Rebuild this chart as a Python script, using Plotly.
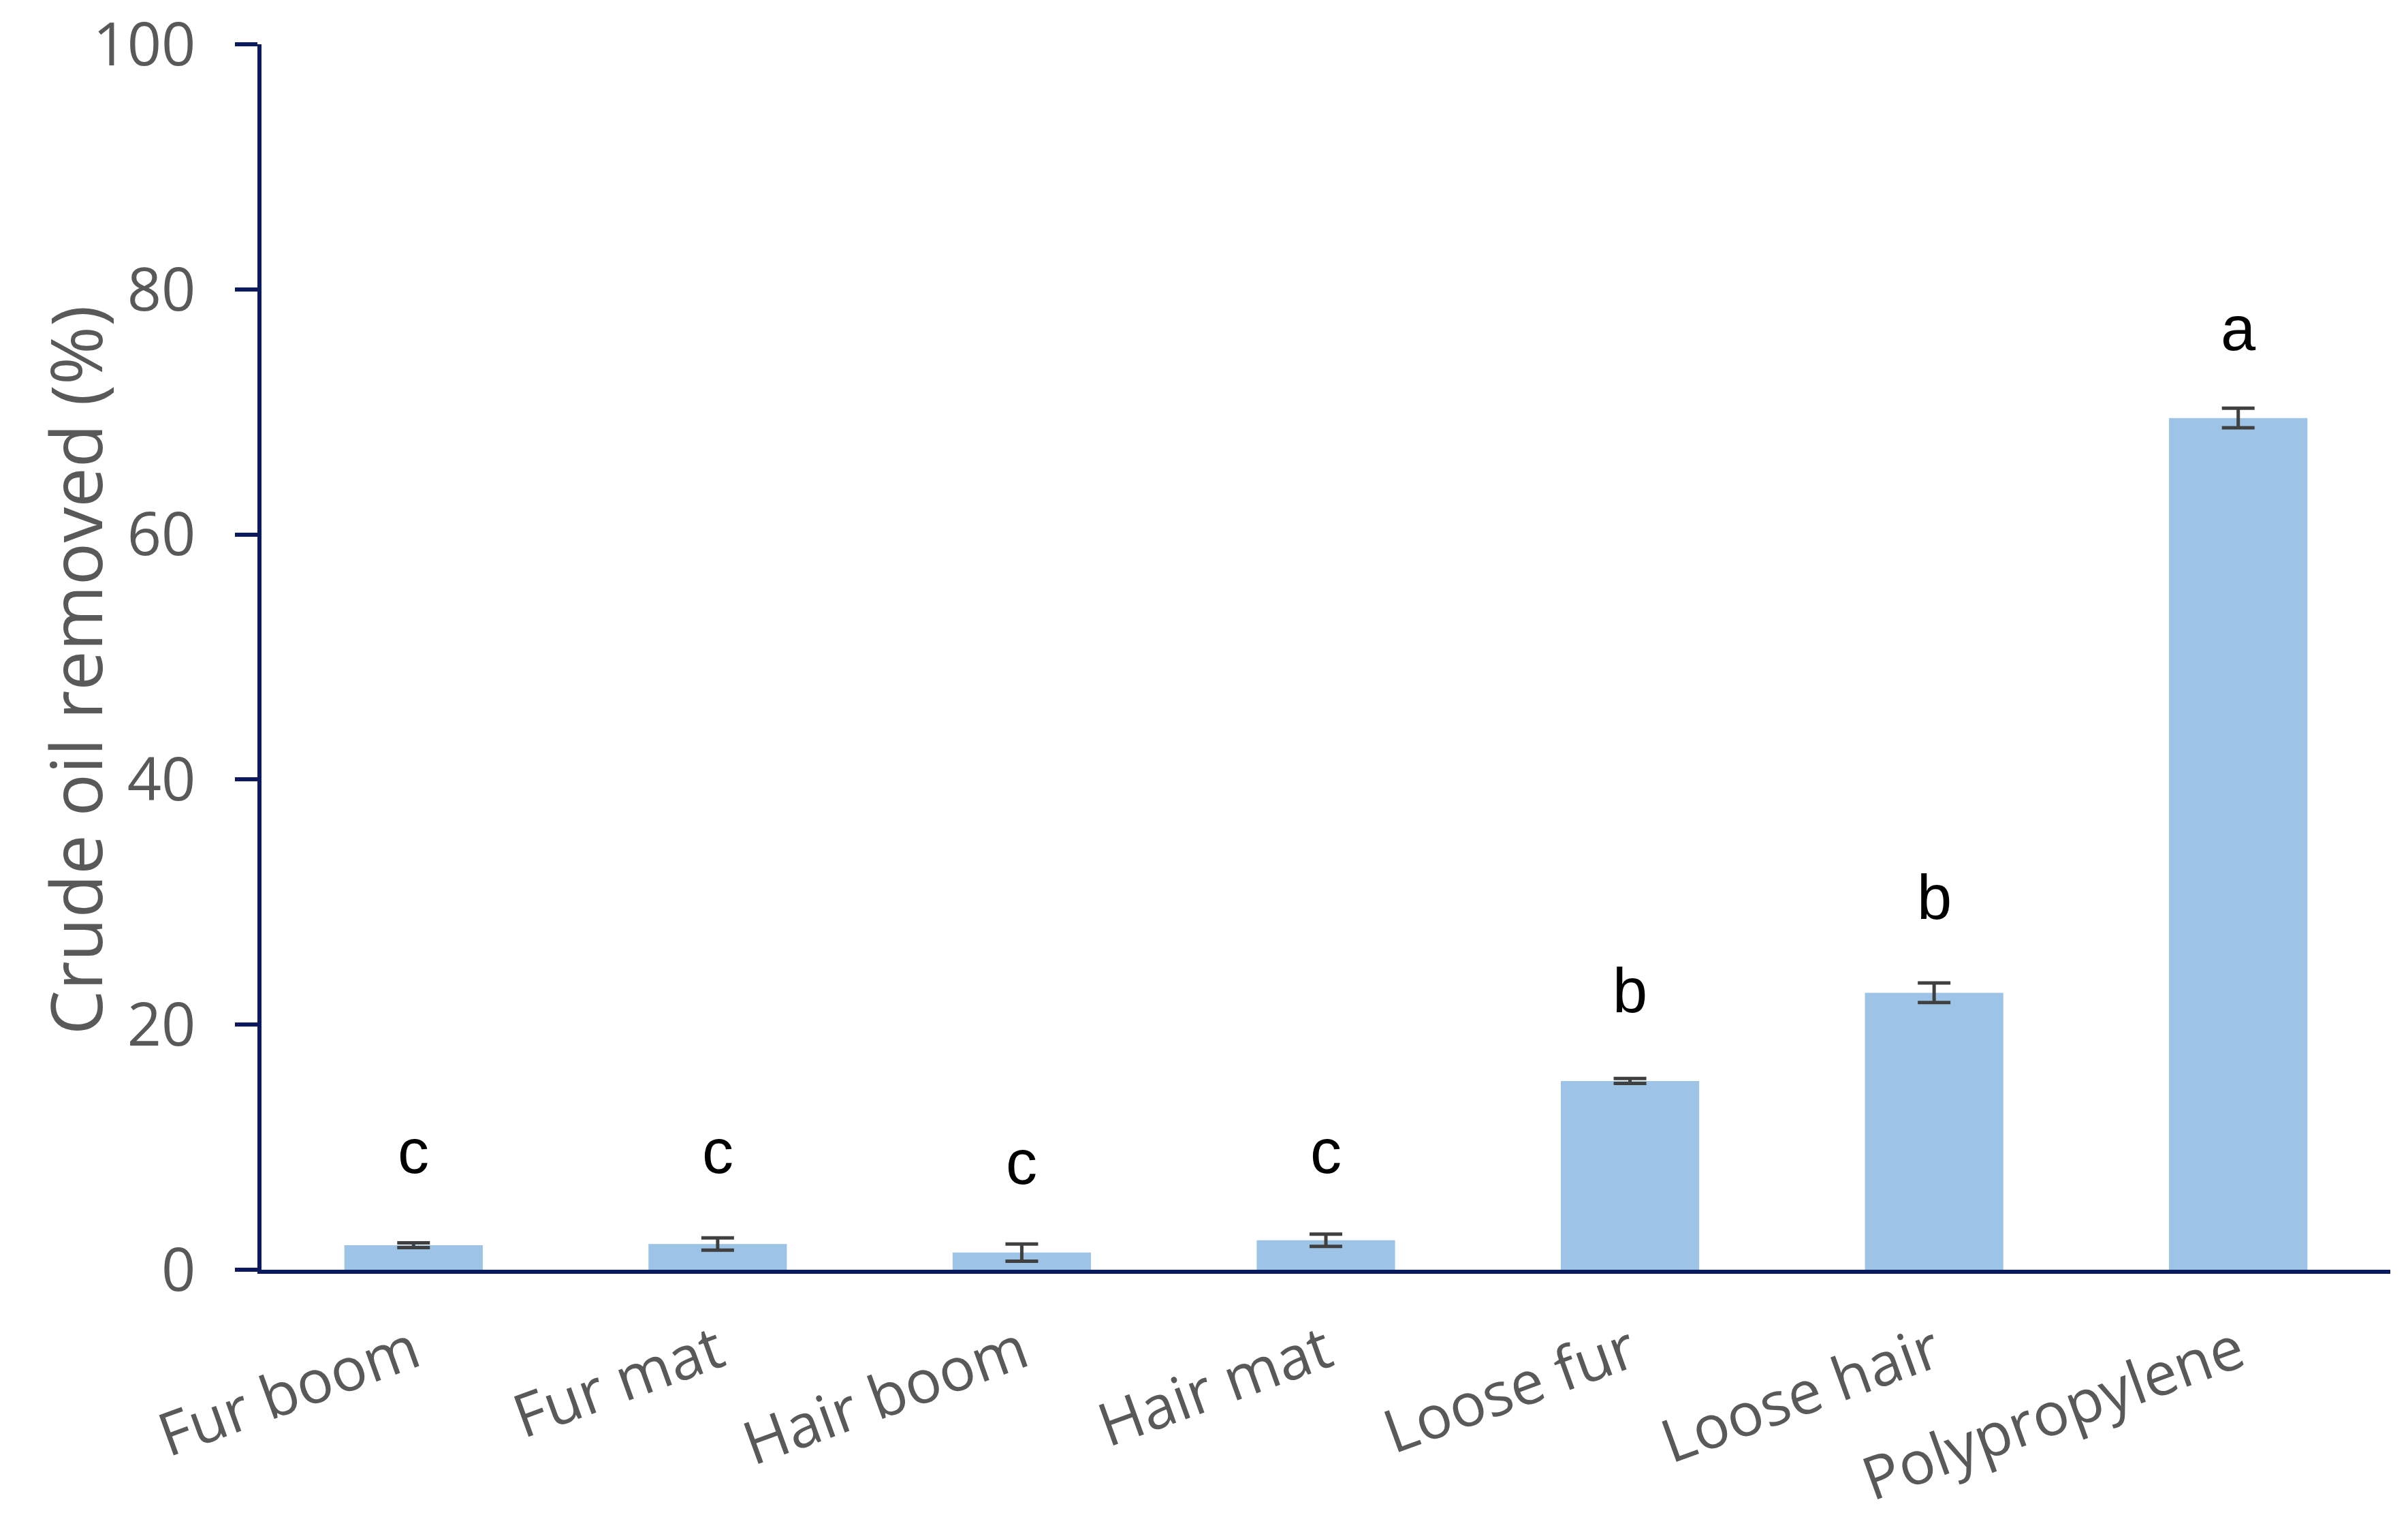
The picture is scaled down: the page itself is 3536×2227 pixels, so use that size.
import plotly.graph_objects as go

# Bar data
materials = ['Fur boom', 'Fur mat', 'Hair boom', 'Hair mat', 'Loose fur', 'Loose hair', 'Polypropylene']
removed = [2.0, 2.1, 1.4, 2.4, 15.4, 22.6, 69.5]
errors = [0.2, 0.5, 0.7, 0.5, 0.2, 0.8, 0.8]

# Significance letters and their heights
letters = ['c', 'c', 'c', 'c', 'b', 'b', 'a']
letter_y = [9.7, 9.7, 8.8, 9.7, 22.8, 30.4, 76.8]

axis_col = '#0b1a5c'
text_col = '#595959'

fig = go.Figure()
fig.add_trace(go.Bar(
    x=materials, y=removed,
    marker=dict(color='#9dc3e6', line=dict(width=0)),
    width=0.455,
    error_y=dict(type='data', array=errors, visible=True,
                 color='#404040', thickness=5, width=24),
))

for m, l, ly in zip(materials, letters, letter_y):
    fig.add_annotation(x=m, y=ly, text=l, showarrow=False,
                       font=dict(family='Liberation Sans, Arial', size=92, color='black'),
                       yanchor='middle')

# y-axis title placed by hand so it sits where the original does
fig.add_annotation(text='Crude oil removed (%)', textangle=-90, showarrow=False,
                   xref='paper', x=0, xanchor='center', xshift=-275,
                   yref='y', y=48.9, yanchor='middle',
                   font=dict(size=104, color=text_col))

fig.update_layout(
    width=3536, height=2227,
    paper_bgcolor='white', plot_bgcolor='white',
    margin=dict(l=376, r=34, t=57, b=371),
    showlegend=False,
    font=dict(family='Open Sans', color=text_col),
)
fig.update_xaxes(
    range=[-0.5, 6.5], showline=True, linecolor=axis_col, linewidth=6,
    showgrid=False, ticks='', tickangle=-20, automargin=False,
    tickfont=dict(size=88, color=text_col), ticklabelstandoff=30,
)
fig.update_yaxes(
    range=[0, 100], tickvals=[0, 20, 40, 60, 80, 100],
    showline=True, linecolor=axis_col, linewidth=6, automargin=False,
    showgrid=False, zeroline=False, ticks='outside', ticklen=33, tickwidth=6,
    tickcolor=axis_col, tickfont=dict(size=88, color=text_col), ticklabelstandoff=40,
    ticklabeloverflow='allow',
)

fig.write_html('out.html')
